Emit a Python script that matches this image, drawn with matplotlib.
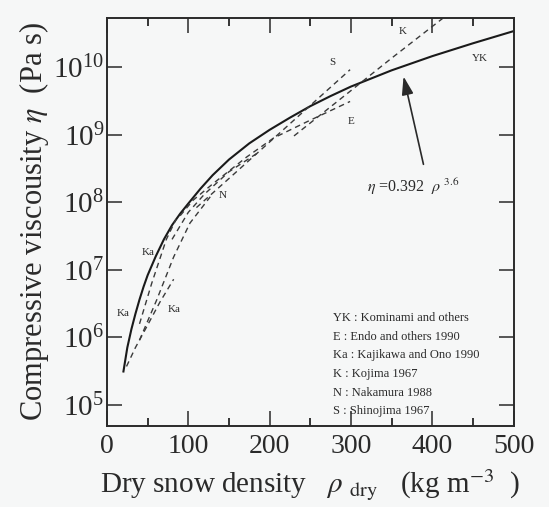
import numpy as np
import matplotlib
matplotlib.use("Agg")
import matplotlib.pyplot as plt

plt.rcParams['font.family'] = ['Liberation Serif', 'DejaVu Serif']
plt.rcParams['mathtext.fontset'] = 'stix'

# ---- data (density kg m^-3, log10 viscosity Pa s) ----
yk_rho = [20, 25, 30, 35, 40, 45, 50, 60, 70, 80, 90, 100, 115, 130, 150, 175, 200,
          225, 250, 275, 300, 325, 350, 400, 450, 500]
yk_log = [5.48, 5.85, 6.12, 6.35, 6.56, 6.75, 6.92, 7.2, 7.45, 7.66, 7.83, 7.98, 8.2,
          8.4, 8.63, 8.87, 9.07, 9.25, 9.42, 9.57, 9.71, 9.83, 9.95, 10.16, 10.35, 10.53]

s_rho = [110, 150, 200, 250, 299]
s_log = [7.92, 8.35, 8.89, 9.43, 9.96]

e_rho = [90, 106, 131, 172, 205, 246, 299]
e_log = [7.8, 8.03, 8.28, 8.67, 8.95, 9.19, 9.49]

k_rho = [230, 300, 350, 413]
k_log = [8.98, 9.65, 10.13, 10.72]

n_rho = [80, 100, 120, 150, 188]
n_log = [7.45, 7.85, 8.12, 8.45, 8.75]

ka1_rho = [24, 35, 49, 65, 82]
ka1_log = [5.57, 5.85, 6.16, 6.52, 6.86]

ka2_rho = [40, 61, 82, 102, 127]
ka2_log = [5.96, 6.55, 7.19, 7.69, 8.08]

ka3_rho = [40, 55, 73, 85]
ka3_log = [6.2, 6.8, 7.45, 7.75]

x_ticks = [0, 100, 200, 300, 400, 500]
legend_lines = ["YK : Kominami and others",
                "E : Endo and others 1990",
                "Ka : Kajikawa and Ono 1990",
                "K : Kojima 1967",
                "N : Nakamura 1988",
                "S : Shinojima 1967"]

W, H = 549, 507
fig = plt.figure(figsize=(W / 100, H / 100), dpi=100)
bg = '#f6f7f7'
fig.patch.set_facecolor(bg)
ax = fig.add_axes([107 / W, 1 - 426 / H, (513.5 - 107) / W, (426 - 17.5) / H])
ax.set_facecolor(bg)

ink = '#2a2a2a'
dash = dict(color='#3a3a3a', lw=1.0, ls=(0, (4, 3)))

ax.plot(yk_rho, 10 ** np.array(yk_log), color='#1a1a1a', lw=1.5, solid_capstyle='butt')
for r, l in [(s_rho, s_log), (e_rho, e_log), (k_rho, k_log), (n_rho, n_log),
             (ka1_rho, ka1_log), (ka2_rho, ka2_log), (ka3_rho, ka3_log)]:
    ax.plot(r, 10 ** np.array(l), **dash)

ax.set_yscale('log')
ax.set_xlim(0, 500)
ax.set_ylim(10 ** 4.689, 10 ** 10.732)
ax.set_xticks(x_ticks)
ax.set_xticks([50, 150, 250, 350, 450], minor=True)
ax.set_yticks([1e5, 1e6, 1e7, 1e8, 1e9, 1e10])
ax.yaxis.set_minor_locator(matplotlib.ticker.NullLocator())
ax.tick_params(axis='both', which='major', direction='in', length=11, width=1.1,
               top=True, right=True, labelsize=20, colors=ink, pad=6)
ax.tick_params(axis='y', which='major', labelsize=21, pad=2)
ax.tick_params(axis='x', which='minor', direction='in', length=6, width=1.1, top=True)
for sp in ax.spines.values():
    sp.set_linewidth(1.4)
    sp.set_color(ink)

ax.set_xlabel(r"Dry snow density   $\rho$ $_{\mathrm{dry}}$   (kg m$^{-3}$  )", fontsize=21, color=ink, labelpad=6)
ax.set_ylabel(r"Compressive viscousity $\eta$  (Pa s)", fontsize=22, color=ink, labelpad=2)

lab = dict(fontsize=8, color=ink, ha='center', va='center')
ax.text(459, 10 ** 10.12, "YK", **lab)
ax.text(364, 10 ** 10.52, "K", **lab)
ax.text(276.6, 10 ** 10.06, "S", **lab)
ax.text(300, 10 ** 9.19, "E", **lab)
ax.text(142.9, 10 ** 8.10, "N", **lab)
ax.text(19.3, 10 ** 6.35, "Ka", **lab)
ax.text(50.8, 10 ** 7.25, "Ka", **lab)
ax.text(82.8, 10 ** 6.41, "Ka", **lab)

ax.annotate("", xy=(364, 10 ** 9.9), xytext=(390, 10 ** 8.52),
            arrowprops=dict(arrowstyle='-|>,head_length=1.1,head_width=0.35', color=ink, lw=1.2))
ax.text(320, 10 ** 8.225, r"$\eta$ =0.392  $\rho$ $^{3.6}$", fontsize=11.5, color=ink, ha='left', va='center')

for i, t in enumerate(legend_lines):
    ax.text(278, 10 ** (6.28 - i * 0.274), t, fontsize=9, color=ink, ha='left', va='center')

fig.savefig("out.png", dpi=100, facecolor=bg)
